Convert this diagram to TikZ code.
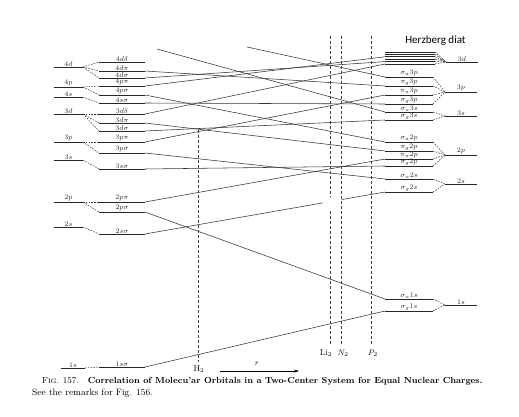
\documentclass[tikz,border=0pt]{standalone}
\usepackage{fontspec}
\newfontfamily\carlito{Carlito}
\usetikzlibrary{arrows.meta,calc}
\newcommand\mylvl[5]{\coordinate (#1L) at (#2,#4); \coordinate (#1R) at (#3,#4); \draw[lv] (#1L) -- (#1R) node[lab, midway] (#1t) {#5};}
\newcommand\mybar[4]{\coordinate (#1L) at (#2,#4); \coordinate (#1R) at (#3,#4); \draw[lv] (#1L) -- (#1R);}
\begin{document}
\begin{tikzpicture}[x=1pt,y=-1pt,
  lv/.style={line width=0.8pt, black!85},
  cor/.style={line width=0.55pt, black!80},
  fan/.style={line width=0.5pt, dash pattern=on 1.6pt off 1.2pt, black!80},
  vline/.style={line width=0.55pt, dash pattern=on 3pt off 2pt, black!75},
  lab/.style={font=\fontsize{7.3}{8}\selectfont, inner sep=0.5pt, anchor=south},
  distlab/.style={font=\fontsize{8.5}{9}\selectfont, inner sep=0.5pt}]
\useasboundingbox (0,0) rectangle (519,417);
% atomic levels, left
\mylvl{A4d}{54}{83}{67}{$4d$}
\mylvl{A4p}{54}{83}{87}{$4p$}
\mylvl{A4s}{54}{83}{97}{$4s$}
\mylvl{A3d}{54}{83}{114}{$3d$}
\mylvl{A3p}{54}{83}{142}{$3p$}
\mylvl{A3s}{54}{83}{160}{$3s$}
\mylvl{A2p}{54}{83}{202}{$2p$}
\mylvl{A2s}{54}{83}{227}{$2s$}
\mylvl{A1s}{61}{85}{368}{$1s$}
% united atom levels
\mylvl{U4dd}{99}{145}{62}{$4d\delta$}
\mylvl{U4dp}{99}{145}{71}{$4d\pi$}
\mylvl{U4ds}{99}{145}{78}{$4d\sigma$}
\mylvl{U4pp}{99}{145}{86}{$4p\pi$}
\mylvl{U4ps}{99}{145}{95}{$4p\sigma$}
\mylvl{U4ss}{99}{145}{103}{$4s\sigma$}
\mylvl{U3dd}{99}{145}{114}{$3d\delta$}
\mylvl{U3dp}{99}{145}{123}{$3d\pi$}
\mylvl{U3ds}{99}{145}{131}{$3d\sigma$}
\mylvl{U3pp}{99}{145}{142}{$3p\pi$}
\mylvl{U3ps}{99}{145}{153}{$3p\sigma$}
\mylvl{U3ss}{99}{145}{169}{$3s\sigma$}
\mylvl{U2pp}{99}{145}{202}{$2p\pi$}
\mylvl{U2ps}{99}{145}{212}{$2p\sigma$}
\mylvl{U2ss}{99}{145}{234}{$2s\sigma$}
\mylvl{U1ss}{99}{145}{367}{$1s\sigma$}
% molecular levels, right
\mybar{Ma}{385}{435}{52}
\mybar{Mb}{385}{435}{54.4}
\mybar{Mc}{385}{435}{56.8}
\mybar{Md}{385}{435}{59.2}
\mybar{Me}{385}{435}{61.6}
\mybar{Mf}{385}{435}{64}
\mylvl{Msu3p}{385}{433}{77}{$\sigma_u 3p$}
\mylvl{Mpg3p}{385}{433}{86}{$\pi_g 3p$}
\mylvl{Mpu3p}{385}{433}{95}{$\pi_u 3p$}
\mylvl{Msg3p}{385}{433}{104}{$\sigma_g 3p$}
\mylvl{Msu3s}{385}{433}{112}{$\sigma_u 3s$}
\mylvl{Msg3s}{385}{433}{120}{$\sigma_g 3s$}
\mylvl{Msu2p}{385}{433}{142}{$\sigma_u 2p$}
\mylvl{Mpg2p}{385}{433}{151}{$\pi_g 2p$}
\mylvl{Mpu2p}{385}{433}{159}{$\pi_u 2p$}
\mylvl{Msg2p}{385}{433}{166}{$\sigma_g 2p$}
\mylvl{Msu2s}{385}{433}{179}{$\sigma_u 2s$}
\mylvl{Msg2s}{385}{433}{192}{$\sigma_g 2s$}
\mylvl{Msu1s}{385}{433}{299}{$\sigma_u 1s$}
\mylvl{Msg1s}{385}{433}{311}{$\sigma_g 1s$}
% separated atom levels, right
\mylvl{B3d}{446}{478}{62}{$3d$}
\mylvl{B3p}{445}{477}{92}{$3p$}
\mylvl{B3s}{445}{477}{116}{$3s$}
\mylvl{B2p}{445}{477}{155}{$2p$}
\mylvl{B2s}{445}{477}{184}{$2s$}
\mylvl{B1s}{445}{477}{305}{$1s$}
% left fans
\foreach \a/\u in {A4d/U4dd,A4d/U4dp,A4d/U4ds,A4p/U4pp,A4p/U4ps,A4s/U4ss,A3d/U3dd,A3d/U3dp,A3d/U3ds,A3p/U3pp,A3p/U3ps,A3s/U3ss,A2p/U2pp,A2p/U2ps,A2s/U2ss,A1s/U1ss}
  \draw[fan] (\a R) -- (\u L);
% right fans
\foreach \m/\b in {Ma/B3d,Mb/B3d,Mc/B3d,Md/B3d,Me/B3d,Mf/B3d,Msu3p/B3p,Mpg3p/B3p,Mpu3p/B3p,Msg3p/B3p,Msu3s/B3s,Msg3s/B3s,Msu2p/B2p,Mpg2p/B2p,Mpu2p/B2p,Msg2p/B2p,Msu2s/B2s,Msg2s/B2s,Msu1s/B1s,Msg1s/B1s}
  \draw[fan] (\m R) -- (\b L);
% correlation lines
\foreach \u/\m in {U4dp/Mpg3p,U4ds/Me,U4pp/Mc,U4ps/Msu2p,U4ss/Msg3p,U3dd/Mf,U3dp/Mpg2p,U3ds/Msg3s,U3pp/Mpu3p,U3ps/Msu2s,U3ss/Msg2p,U2pp/Mpu2p,U2ps/Msu1s,U1ss/Msg1s}
  \draw[cor] (\u R) -- (\m L);
\coordinate (g1) at ($(U2ssR)!0.74!(Msg2sL)$);
\coordinate (g2) at ($(U2ssR)!0.82!(Msg2sL)$);
\draw[cor] (U2ssR) -- (g1);
\draw[cor] (g2) -- (Msg2sL);
\coordinate (t1) at (157,49);
\coordinate (t2) at (247,47);
\draw[cor] (t1) -- (Msu3sL);
\draw[cor] (t2) -- (Msu3pL);
% internuclear distance markers
\node[distlab] (H2) at (199,369) {H$_2$};
\node[distlab] (Li2) at (326,353) {Li$_2$};
\node[distlab] (N2) at (343,353) {$N_2$};
\node[distlab] (P2) at (373,353) {$P_2$};
\coordinate (H2top) at (198,130);
\coordinate (H2bot) at (198,362);
\draw[vline] (H2top) -- (H2bot);
\coordinate (Li2top) at (330,36);
\coordinate (Li2g1) at (330,197);
\coordinate (Li2g2) at (330,211);
\coordinate (Li2bot) at (330,346);
\draw[vline] (Li2top) -- (Li2g1);
\draw[vline] (Li2g2) -- (Li2bot);
\coordinate (N2top) at (341,36);
\coordinate (N2bot) at (341,346);
\draw[vline] (N2top) -- (N2bot);
\coordinate (P2top) at (371,36);
\coordinate (P2bot) at (371,346);
\draw[vline] (P2top) -- (P2bot);
\coordinate (ra) at (220,371);
\coordinate (rb) at (299,371);
\draw[line width=0.6pt, -{Stealth[length=5pt,width=3pt]}] (ra) -- (rb);
\node[distlab] (rl) at (257,364) {$r$};
% texts
\node[font=\carlito\fontsize{11}{12}\selectfont, inner sep=0pt] (hz) at (435.5,41) {Herzberg diat};
\node[anchor=west, inner sep=0pt, font=\fontsize{8.8}{10}\selectfont] (cap1) at (42,381) {F\textsc{ig}. 157.\quad\textbf{Correlation of Molecu'ar Orbitals in a Two-Center System for Equal Nuclear Charges.}};
\node[anchor=west, inner sep=0pt, font=\fontsize{9.2}{10}\selectfont] (cap2) at (32,393) {See the remarks for Fig. 156.};
\end{tikzpicture}
\end{document}
